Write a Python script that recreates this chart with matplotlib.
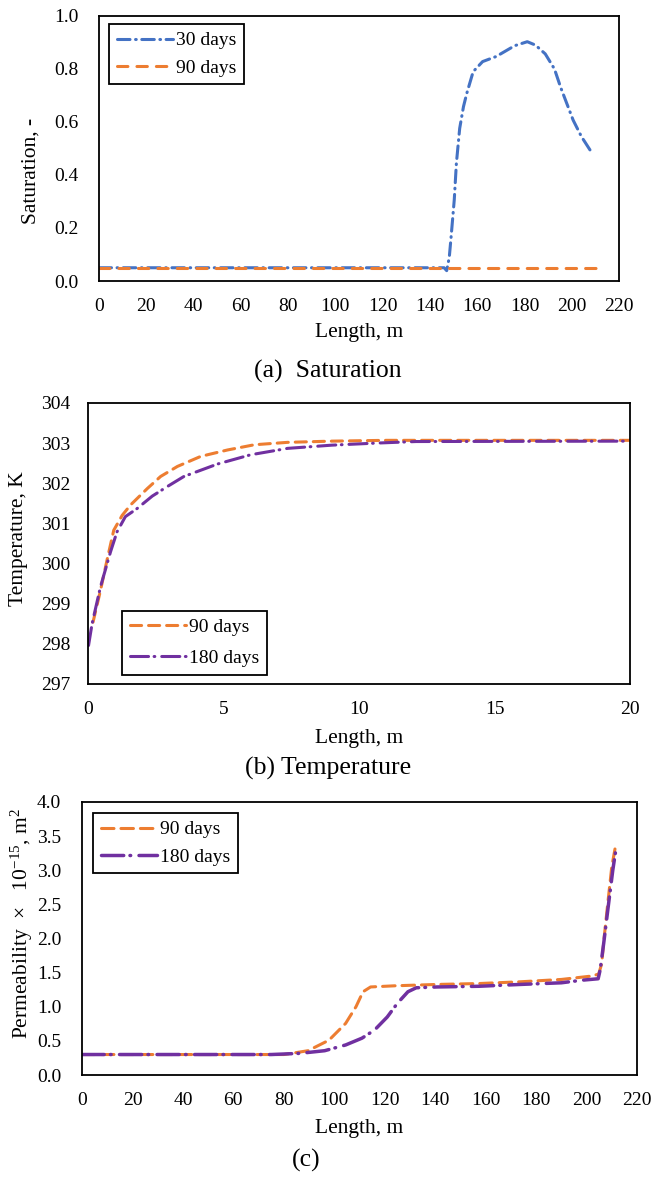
import matplotlib
matplotlib.use('Agg')
import matplotlib.pyplot as plt

plt.rcParams['font.family'] = ['Liberation Serif', 'DejaVu Serif']
plt.rcParams['mathtext.fontset'] = 'custom'
plt.rcParams['mathtext.rm'] = 'Liberation Serif'
plt.rcParams['mathtext.it'] = 'Liberation Serif:italic'
plt.rcParams['lines.scale_dashes'] = False

# (a) saturation
sat_x_30 = [0, 146, 147.1, 148.2, 149, 150.3, 151.2, 152.6, 154.2, 155.6, 158.3, 162.3,
            168, 175.9, 181.2, 184.7, 188.8, 192.7, 195.3, 200.6, 204.1, 208.2]
sat_30 = [0.05, 0.05, 0.039, 0.09, 0.17, 0.306, 0.444, 0.576, 0.658, 0.708, 0.79, 0.828,
          0.847, 0.888, 0.903, 0.89, 0.857, 0.80, 0.731, 0.607, 0.545, 0.488]
sat_x_90 = [0, 213]
sat_90 = [0.05, 0.05]

# (b) temperature
temp_x_90 = [0.185, 0.46, 0.7, 0.95, 1.26, 1.57, 2.19, 2.68, 3.3, 4.16, 5.15, 6.14,
             7.37, 9.0, 11.0, 20]
temp_90 = [298.54, 299.33, 300.08, 300.83, 301.2, 301.46, 301.87, 302.17, 302.42, 302.67,
           302.83, 302.96, 303.02, 303.05, 303.07, 303.07]
temp_x_180 = [0.02, 0.15, 0.46, 0.83, 1.07, 1.38, 1.81, 2.37, 2.93, 3.54, 4.78, 6.0,
              7.37, 9.0, 10.6, 12.1, 20]
temp_180 = [297.96, 298.5, 299.42, 300.29, 300.79, 301.17, 301.37, 301.68, 301.92, 302.17,
            302.48, 302.71, 302.87, 302.95, 303.0, 303.04, 303.05]

# (c) permeability
perm_x_90 = [0, 80, 83, 89.6, 97.9, 104.5, 108.6, 111.4, 114.4, 124, 140.8, 157.3, 173.8,
             190, 201.8, 204.8, 206, 207, 208.4, 210, 211.7]
perm_90 = [0.3, 0.3, 0.317, 0.356, 0.51, 0.756, 1.0, 1.22, 1.29, 1.307, 1.327, 1.34, 1.366,
           1.40, 1.449, 1.478, 1.63, 2.02, 2.51, 3.05, 3.40]
perm_x_180 = [0, 75, 86.3, 96.2, 104.5, 111, 116, 121, 125, 129.2, 132.5, 140.8, 157.3,
              173.8, 190, 198.5, 204.6, 205.4, 206.8, 208.4, 210.4, 211.7]
perm_180 = [0.3, 0.3, 0.317, 0.356, 0.44, 0.54, 0.66, 0.85, 1.05, 1.22, 1.278, 1.29, 1.30,
            1.327, 1.351, 1.39, 1.41, 1.54, 1.93, 2.41, 3.0, 3.32]

BLUE = '#4472C4'
ORANGE = '#ED7D31'
PURPLE = '#7030A0'
FS = 14       # ticks, legend
FL = 15.5     # axis labels
FC = 18.5     # captions

W, H = 651, 1179
fig = plt.figure(figsize=(W / 100, H / 100), dpi=100)


def make_axes(x0, x1, y0, y1):
    # pixel box -> figure fraction
    return fig.add_axes([x0 / W, 1 - y1 / H, (x1 - x0) / W, (y1 - y0) / H])


def style(ax, ypad):
    for s in ax.spines.values():
        s.set_linewidth(1.3)
        s.set_color('black')
    ax.tick_params(axis='both', length=0, labelsize=FS)
    ax.tick_params(axis='x', pad=12)
    ax.tick_params(axis='y', pad=ypad)


def legend(ax, **kw):
    leg = ax.legend(fontsize=FS, fancybox=False, framealpha=1, edgecolor='black',
                    handlelength=2.9, handletextpad=0.15, borderaxespad=0, **kw)
    leg.get_frame().set_linewidth(1.3)


# ---- (a)
ax = make_axes(99, 619, 16, 281)
ax.plot(sat_x_30, sat_30, color=BLUE, lw=2.2, dashes=(9, 4, 0.5, 4),
        dash_capstyle='round', label='30 days')
ax.plot(sat_x_90, sat_90, color=ORANGE, lw=2.2, dashes=(7.5, 6.5),
        dash_capstyle='round', label='90 days')
ax.set_xlim(0, 220)
ax.set_ylim(0, 1.0)
ax.set_xticks(range(0, 221, 20))
ax.set_yticks([0, 0.2, 0.4, 0.6, 0.8, 1.0])
ax.set_yticklabels(['0.0', '0.2', '0.4', '0.6', '0.8', '1.0'])
style(ax, 15)
legend(ax, loc='upper left', bbox_to_anchor=(0.019, 0.97))
fig.text(31 / W, 1 - 171 / H, 'Saturation, -', rotation=90, ha='center', va='center', fontsize=FL)
fig.text(359 / W, 1 - 333 / H, 'Length, m', ha='center', va='center', fontsize=FL)
fig.text(328 / W, 1 - 371 / H, '(a)  Saturation', ha='center', va='center', fontsize=FC)

# ---- (b)
ax = make_axes(88, 630, 403, 684)
ax.plot(temp_x_90, temp_90, color=ORANGE, lw=2.2, dashes=(8, 5),
        dash_capstyle='round', label='90 days')
ax.plot(temp_x_180, temp_180, color=PURPLE, lw=2.2, dashes=(13, 4, 0.5, 5),
        dash_capstyle='round', label='180 days')
ax.set_xlim(0, 20)
ax.set_ylim(297, 304)
ax.set_xticks([0, 5, 10, 15, 20])
ax.set_yticks(range(297, 305))
style(ax, 12.5)
legend(ax, loc='lower left', bbox_to_anchor=(0.063, 0.032), labelspacing=0.7)
fig.text(19 / W, 1 - 539 / H, 'Temperature, K', rotation=90, ha='center', va='center', fontsize=FL)
fig.text(359 / W, 1 - 738 / H, 'Length, m', ha='center', va='center', fontsize=FL)
fig.text(328 / W, 1 - 768 / H, '(b) Temperature', ha='center', va='center', fontsize=FC)

# ---- (c)
ax = make_axes(82, 637, 802, 1075)
ax.plot(perm_x_90, perm_90, color=ORANGE, lw=2.2, dashes=(9, 5),
        dash_capstyle='round', label='90 days')
ax.plot(perm_x_180, perm_180, color=PURPLE, lw=2.5, dashes=(16, 4.5, 0.5, 6),
        dash_capstyle='round', label='180 days')
ax.set_xlim(0, 220)
ax.set_ylim(0, 4.0)
ax.set_xticks(range(0, 221, 20))
ax.set_yticks([0, 0.5, 1.0, 1.5, 2.0, 2.5, 3.0, 3.5, 4.0])
ax.set_yticklabels(['0.0', '0.5', '1.0', '1.5', '2.0', '2.5', '3.0', '3.5', '4.0'])
style(ax, 15)
legend(ax, loc='upper left', bbox_to_anchor=(0.02, 0.96))
fig.text(22 / W, 1 - 924 / H, 'Permeability  \u00d7   10$^{-15}$, m$^{2}$', rotation=90,
         ha='center', va='center', fontsize=FL)
fig.text(359 / W, 1 - 1128 / H, 'Length, m', ha='center', va='center', fontsize=FL)
fig.text(306 / W, 1 - 1160 / H, '(c)', ha='center', va='center', fontsize=FC)

fig.savefig('out.png', dpi=100)
